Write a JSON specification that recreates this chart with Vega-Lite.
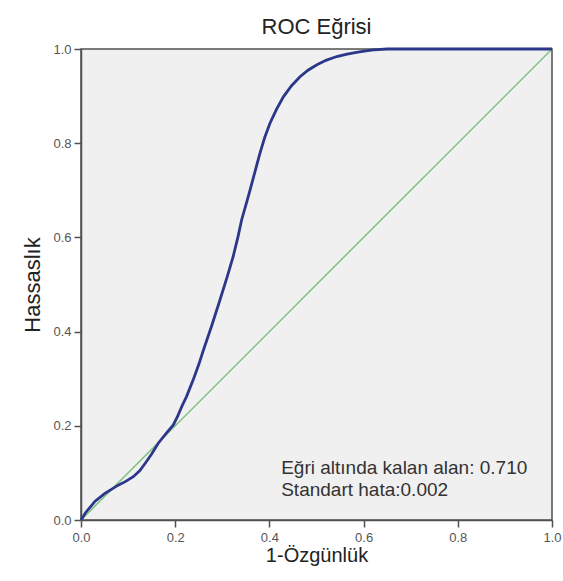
{
  "$schema": "https://vega.github.io/schema/vega-lite/v6.json",
  "width": 471,
  "height": 471,
  "autosize": {"type": "none"},
  "padding": {"left": 81, "top": 49, "right": 11, "bottom": 61},
  "background": "white",
  "title": {"text": "ROC Eğrisi", "fontSize": 22, "font": "Liberation Sans", "fontWeight": "normal", "color": "#222222", "offset": 4},
  "config": {
    "font": "Liberation Sans",
    "view": {"fill": "#f0f0f0", "stroke": "#505050", "strokeWidth": 1.5},
    "axis": {
      "grid": false,
      "tickSize": 7,
      "tickColor": "#505050",
      "tickWidth": 1.5,
      "domainColor": "#505050",
      "domainWidth": 1.5,
      "labelFontSize": 13,
      "labelColor": "#555555",
      "labelFont": "Liberation Sans",
      "labelFlush": false,
      "labelOverlap": false,
      "titleFont": "Liberation Sans",
      "titleFontWeight": "normal",
      "titleColor": "#222222",
      "format": ".1f"
    }
  },
  "datasets": {
    "roc": [
      {"fpr": 0.0, "tpr": 0.0},
      {"fpr": 0.01, "tpr": 0.016},
      {"fpr": 0.02, "tpr": 0.028},
      {"fpr": 0.03, "tpr": 0.04},
      {"fpr": 0.05, "tpr": 0.056},
      {"fpr": 0.079, "tpr": 0.074},
      {"fpr": 0.095, "tpr": 0.082},
      {"fpr": 0.111, "tpr": 0.092},
      {"fpr": 0.125, "tpr": 0.105},
      {"fpr": 0.136, "tpr": 0.12},
      {"fpr": 0.15, "tpr": 0.14},
      {"fpr": 0.164, "tpr": 0.163},
      {"fpr": 0.18, "tpr": 0.183},
      {"fpr": 0.196, "tpr": 0.202},
      {"fpr": 0.205, "tpr": 0.22},
      {"fpr": 0.214, "tpr": 0.241},
      {"fpr": 0.224, "tpr": 0.262},
      {"fpr": 0.238, "tpr": 0.297},
      {"fpr": 0.25, "tpr": 0.33},
      {"fpr": 0.26, "tpr": 0.361},
      {"fpr": 0.278, "tpr": 0.414},
      {"fpr": 0.295, "tpr": 0.467},
      {"fpr": 0.31, "tpr": 0.515},
      {"fpr": 0.323, "tpr": 0.559},
      {"fpr": 0.333, "tpr": 0.6},
      {"fpr": 0.341, "tpr": 0.637},
      {"fpr": 0.353, "tpr": 0.679},
      {"fpr": 0.359, "tpr": 0.701},
      {"fpr": 0.37, "tpr": 0.742},
      {"fpr": 0.38, "tpr": 0.779},
      {"fpr": 0.39, "tpr": 0.812},
      {"fpr": 0.401, "tpr": 0.842},
      {"fpr": 0.415, "tpr": 0.872},
      {"fpr": 0.43, "tpr": 0.899},
      {"fpr": 0.447, "tpr": 0.922},
      {"fpr": 0.465, "tpr": 0.941},
      {"fpr": 0.482, "tpr": 0.955},
      {"fpr": 0.5, "tpr": 0.966},
      {"fpr": 0.52, "tpr": 0.976},
      {"fpr": 0.543, "tpr": 0.984},
      {"fpr": 0.565, "tpr": 0.989},
      {"fpr": 0.585, "tpr": 0.993},
      {"fpr": 0.605, "tpr": 0.996},
      {"fpr": 0.621, "tpr": 0.998},
      {"fpr": 0.65, "tpr": 1.0},
      {"fpr": 1.0, "tpr": 1.0}
    ],
    "ref": [
      {"fpr": 0.0, "tpr": 0.0},
      {"fpr": 1.0, "tpr": 1.0}
    ],
    "notes": [
      {"fpr": 0.425, "tpr": 0.11, "label": "Eğri altında kalan alan: 0.710"},
      {"fpr": 0.425, "tpr": 0.064, "label": "Standart hata:0.002"}
    ]
  },
  "layer": [
    {
      "data": {"name": "ref"},
      "mark": {"type": "line", "color": "#7cc27e", "strokeWidth": 1.5},
      "encoding": {
        "x": {"field": "fpr", "type": "quantitative", "scale": {"domain": [0, 1], "nice": false}, "axis": {"title": "1-Özgünlük", "values": [0, 0.2, 0.4, 0.6, 0.8, 1], "titleFontSize": 20, "titlePadding": 1, "labelPadding": 4}},
        "y": {"field": "tpr", "type": "quantitative", "scale": {"domain": [0, 1], "nice": false}, "axis": {"title": "Hassaslık", "values": [0, 0.2, 0.4, 0.6, 0.8, 1], "titleFontSize": 22, "titlePadding": 8, "labelPadding": 3}}
      }
    },
    {
      "data": {"name": "roc"},
      "mark": {"type": "line", "color": "#2c378a", "strokeWidth": 2.8},
      "encoding": {
        "x": {"field": "fpr", "type": "quantitative"},
        "y": {"field": "tpr", "type": "quantitative"}
      }
    },
    {
      "data": {"name": "notes"},
      "mark": {"type": "text", "align": "left", "baseline": "middle", "fontSize": 19, "color": "#333333", "font": "Liberation Sans"},
      "encoding": {
        "x": {"field": "fpr", "type": "quantitative"},
        "y": {"field": "tpr", "type": "quantitative"},
        "text": {"field": "label"}
      }
    }
  ]
}
